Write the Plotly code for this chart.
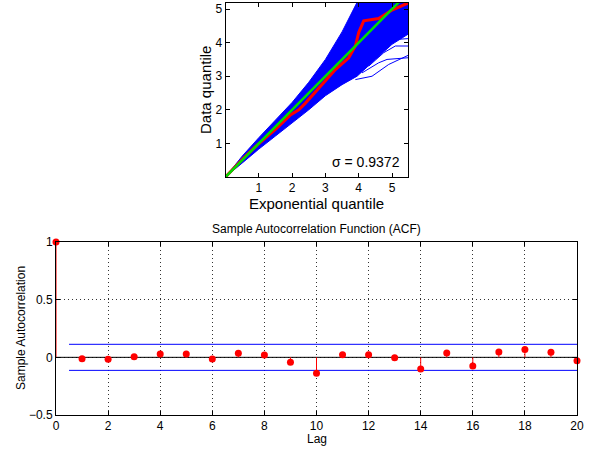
import plotly.graph_objects as go

W, H = 597, 452
FONT = "Liberation Sans, Arial, Helvetica, sans-serif"

# ---------------- top panel data ----------------
env_x = [0, 0.5, 1.0, 1.5, 2.0, 2.5, 3.0, 3.5, 3.95, 4.5, 5.0, 5.48]
env_upper = [0, 0.62, 1.17, 1.68, 2.22, 2.82, 3.5, 4.32, 5.2, 5.8, 6.3, 6.8]
env_lower = [0, 0.41, 0.83, 1.22, 1.6, 2.0, 2.42, 2.75, 3.0, 3.5, 3.95, 4.25]

sparse_lines = [
    ([3.9, 4.4, 4.9, 5.48], [2.9, 3.0, 3.35, 3.62]),
    ([4.1, 4.6, 4.85, 5.48], [3.1, 3.4, 3.5, 3.55]),
    ([4.3, 4.75, 5.1, 5.48], [3.3, 3.7, 3.9, 3.9]),
    ([4.5, 4.9, 5.2, 5.48], [3.55, 4.0, 4.1, 4.12]),
]

qq_x = [0, 0.5, 0.95, 1.5, 1.95, 2.2, 2.4, 2.9, 3.3, 3.7, 3.9, 4.0, 4.15, 4.6, 5.0, 5.48]
qq_y = [0, 0.52, 0.95, 1.42, 1.85, 2.0, 2.2, 2.75, 3.2, 3.55, 3.9, 4.3, 4.65, 4.72, 4.97, 5.18]

ref_x = [0, 5.48]
ref_y = [0, 5.48]

sigma_text = "σ = 0.9372"
top_ticks = [1, 2, 3, 4, 5]

# ---------------- bottom panel data ----------------
lags = list(range(21))
acf = [1.0, -0.012, -0.017, 0.005, 0.029, 0.029, -0.014, 0.035, 0.02, -0.043,
       -0.139, 0.023, 0.023, -0.003, -0.101, 0.037, -0.075, 0.046, 0.069, 0.043, -0.029]
bound = 0.113
bound_x = [0.5, 20]
acf_xticks = list(range(0, 21, 2))
acf_yticks = [-0.5, 0, 0.5, 1]
acf_ytext = ["−0.5", "0", "0.5", "1"]


def fx(x):
    return x / W


def fy(y):
    return 1 - y / H


fig = go.Figure()

# envelope polygon
poly_x = env_x + env_x[::-1]
poly_y = env_upper + env_lower[::-1]
fig.add_trace(go.Scatter(x=poly_x, y=poly_y, fill="toself", fillcolor="#0000ff",
                         line=dict(color="#0000ff", width=1), mode="lines",
                         xaxis="x", yaxis="y", hoverinfo="skip", showlegend=False))
for sx, sy in sparse_lines:
    fig.add_trace(go.Scatter(x=sx, y=sy, mode="lines", line=dict(color="#0000ff", width=1),
                             xaxis="x", yaxis="y", showlegend=False))
fig.add_trace(go.Scatter(x=qq_x, y=qq_y, mode="lines", line=dict(color="#ff0000", width=3),
                         xaxis="x", yaxis="y", showlegend=False))
fig.add_trace(go.Scatter(x=ref_x, y=ref_y, mode="lines", line=dict(color="#00dd00", width=2.5),
                         xaxis="x", yaxis="y", showlegend=False))

# bottom: baseline, bounds, stems, markers
fig.add_trace(go.Scatter(x=[0, 20], y=[0, 0], mode="lines", line=dict(color="black", width=1),
                         xaxis="x2", yaxis="y2", showlegend=False))
for b in (bound, -bound):
    fig.add_trace(go.Scatter(x=bound_x, y=[b, b], mode="lines", line=dict(color="#0000ff", width=1),
                             xaxis="x2", yaxis="y2", showlegend=False))
stem_x, stem_y = [], []
for l, v in zip(lags, acf):
    stem_x += [l, l, None]
    stem_y += [0, v, None]
fig.add_trace(go.Scatter(x=stem_x, y=stem_y, mode="lines", line=dict(color="#ff0000", width=1),
                         xaxis="x2", yaxis="y2", showlegend=False))
fig.add_trace(go.Scatter(x=lags, y=acf, mode="markers", marker=dict(color="#ff0000", size=7),
                         xaxis="x2", yaxis="y2", showlegend=False, cliponaxis=False))

axis_common = dict(showline=True, linecolor="black", linewidth=1, mirror="ticks",
                   ticks="inside", ticklen=4, tickcolor="black", zeroline=False,
                   automargin=False,
                   tickfont=dict(family=FONT, size=12, color="black"))
grid_common = dict(showgrid=True, gridcolor="#333333", griddash="1px,3px", gridwidth=1)

fig.update_layout(
    width=W, height=H, autosize=False,
    margin=dict(l=0, r=0, t=0, b=0, pad=0, autoexpand=False),
    paper_bgcolor="white", plot_bgcolor="white",
    font=dict(family=FONT, color="black"),
    xaxis=dict(domain=[fx(225.5), fx(408)], range=[0, 5.48], tickvals=top_ticks,
               showgrid=False, anchor="y", **axis_common),
    yaxis=dict(domain=[fy(177), fy(3)], range=[0, 5.18], tickvals=top_ticks,
               showgrid=False, anchor="x", **axis_common),
    xaxis2=dict(domain=[fx(56), fx(577)], range=[0, 20], tickvals=acf_xticks,
                anchor="y2", **grid_common, **axis_common),
    yaxis2=dict(domain=[fy(415), fy(242)], range=[-0.5, 1], tickvals=acf_yticks,
                ticktext=acf_ytext, anchor="x2", **grid_common, **axis_common),
    annotations=[
        dict(text="Exponential quantile", x=fx(316.5), y=fy(203), xref="paper", yref="paper",
             showarrow=False, font=dict(family=FONT, size=15), xanchor="center", yanchor="middle"),
        dict(text="Data quantile", x=fx(206), y=fy(90), xref="paper", yref="paper",
             showarrow=False, font=dict(family=FONT, size=15), textangle=-90,
             xanchor="center", yanchor="middle"),
        dict(text=sigma_text, x=fx(402), y=fy(162), xref="paper", yref="paper",
             showarrow=False, font=dict(family=FONT, size=14), xanchor="right", yanchor="middle"),
        dict(text="Sample Autocorrelation Function (ACF)", x=fx(316.5), y=fy(229), xref="paper",
             yref="paper", showarrow=False, font=dict(family=FONT, size=12),
             xanchor="center", yanchor="middle"),
        dict(text="Lag", x=fx(316.5), y=fy(439), xref="paper", yref="paper",
             showarrow=False, font=dict(family=FONT, size=12), xanchor="center", yanchor="middle"),
        dict(text="Sample Autocorrelation", x=fx(21), y=fy(328), xref="paper", yref="paper",
             showarrow=False, font=dict(family=FONT, size=12), textangle=-90,
             xanchor="center", yanchor="middle"),
    ],
)

fig.write_html("out.html")
